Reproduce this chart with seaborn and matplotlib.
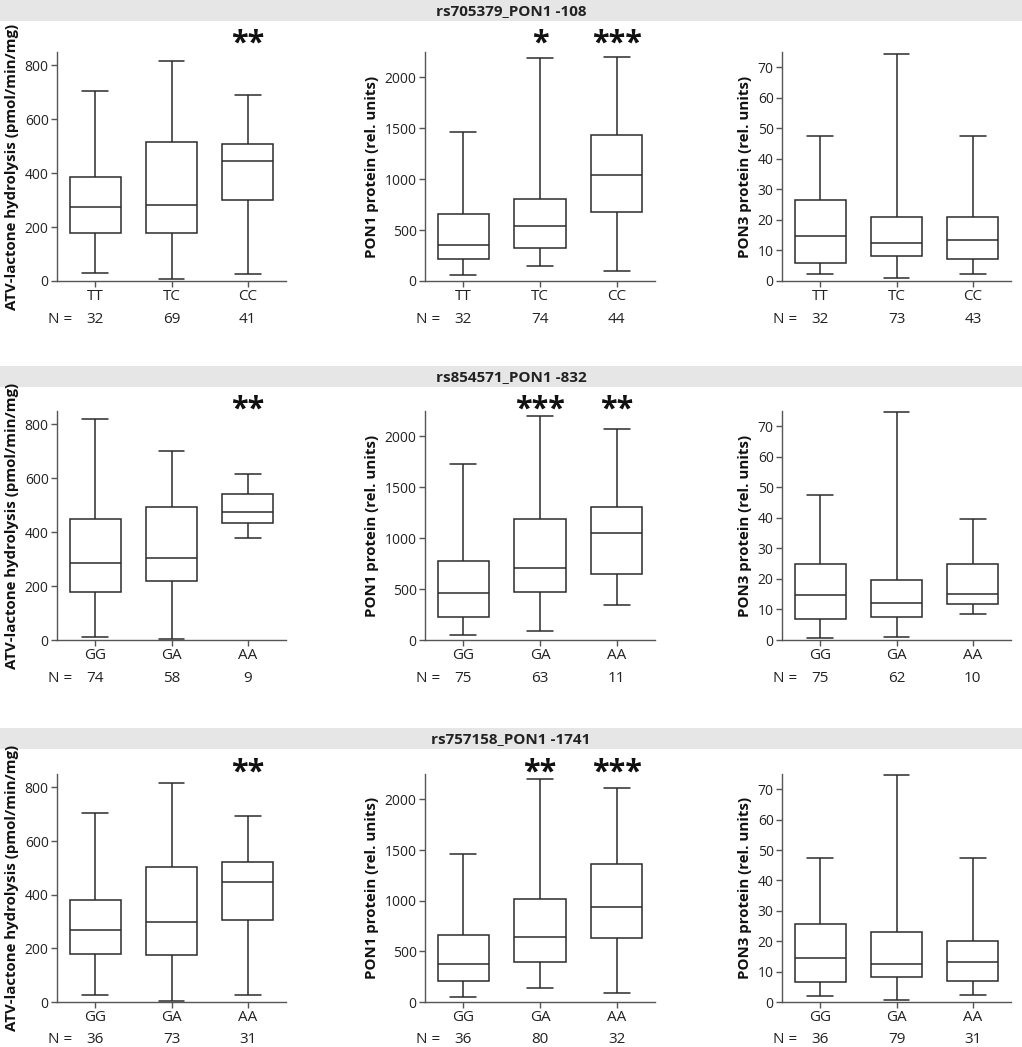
import matplotlib
matplotlib.use("Agg")
import matplotlib.pyplot as plt
import matplotlib.transforms as mtransforms
from matplotlib.patches import Rectangle
import pandas as pd
import seaborn as sns

# row titles, genotype labels, axis labels
snp_titles = ["rs705379_PON1 -108", "rs854571_PON1 -832", "rs757158_PON1 -1741"]
genotypes = [["TT", "TC", "CC"], ["GG", "GA", "AA"], ["GG", "GA", "AA"]]
y_labels = ["ATV-lactone hydrolysis (pmol/min/mg)",
            "PON1 protein (rel. units)",
            "PON3 protein (rel. units)"]
y_maxes = [850, 2250, 75]
y_ticks = [[0, 200, 400, 600, 800],
           [0, 500, 1000, 1500, 2000],
           [0, 10, 20, 30, 40, 50, 60, 70]]

# five-number summaries per genotype: min, Q1, median, Q3, max
atv_108 = [[30, 179, 275, 385, 705], [8, 179, 283, 517, 815], [26, 302, 447, 507, 690]]
pon1_108 = [[56, 212, 353, 663, 1461], [150, 324, 536, 810, 2190], [98, 680, 1046, 1438, 2199]]
pon3_108 = [[2.2, 6.0, 14.8, 26.4, 47.4], [1.1, 8.3, 12.4, 21.1, 74.5], [2.4, 7.2, 13.5, 20.8, 47.4]]

atv_832 = [[11, 180, 287, 450, 819], [5, 218, 304, 493, 701], [380, 434, 474, 541, 617]]
pon1_832 = [[53, 223, 466, 775, 1731], [89, 470, 706, 1189, 2204], [348, 644, 1051, 1304, 2072]]
pon3_832 = [[0.8, 7.0, 14.7, 24.8, 47.5], [1.1, 7.6, 12.1, 19.5, 74.8], [8.4, 11.9, 15.1, 24.8, 39.7]]

atv_1741 = [[27, 178, 270, 381, 703], [5, 177, 300, 504, 816], [25, 305, 447, 521, 692]]
pon1_1741 = [[49, 210, 378, 657, 1461], [141, 391, 640, 1018, 2200], [85, 627, 939, 1360, 2112]]
pon3_1741 = [[2.1, 6.5, 14.5, 25.6, 47.5], [0.8, 8.3, 12.4, 22.9, 74.7], [2.3, 7.0, 13.1, 20.0, 47.5]]

# sample sizes
n_108 = [[32, 69, 41], [32, 74, 44], [32, 73, 43]]
n_832 = [[74, 58, 9], [75, 63, 11], [75, 62, 10]]
n_1741 = [[36, 73, 31], [36, 80, 32], [36, 79, 31]]

# significance marks
stars_108 = [["", "", "**"], ["", "*", "***"], ["", "", ""]]
stars_832 = [["", "", "**"], ["", "***", "**"], ["", "", ""]]
stars_1741 = [["", "", "**"], ["", "**", "***"], ["", "", ""]]

summaries = [[atv_108, pon1_108, pon3_108],
             [atv_832, pon1_832, pon3_832],
             [atv_1741, pon1_1741, pon3_1741]]
counts = [n_108, n_832, n_1741]
stars = [stars_108, stars_832, stars_1741]

sns.set_style("ticks")
plt.rcParams["font.family"] = ["Open Sans", "DejaVu Sans"]

W, H = 1022, 1047
fig = plt.figure(figsize=(W / 100, H / 100), dpi=100)

col_left = [57, 425, 782]
col_width = [229, 230, 229]
row_top = [52, 411, 774]
row_height = [229, 229, 228]
header_top = [0, 366, 728]
header_h = 21
star_y = [1.035, 1.005, 1.005]
line_col = "#2b2b2b"

for r in range(3):
    fig.add_artist(Rectangle((0, 1 - (header_top[r] + header_h) / H), 1, header_h / H,
                             transform=fig.transFigure, facecolor="#e6e6e6",
                             edgecolor="none", zorder=0))
    fig.text(0.5, 1 - (header_top[r] + header_h / 2 + 0.5) / H, snp_titles[r],
             ha="center", va="center", fontsize=11, fontweight="bold", color="#222222")

    for c in range(3):
        ax = fig.add_axes([col_left[c] / W,
                           1 - (row_top[r] + row_height[r]) / H,
                           col_width[c] / W,
                           row_height[r] / H])
        rows = []
        for g, summ in zip(genotypes[r], summaries[r][c]):
            for v in summ:
                rows.append({"genotype": g, "value": v})
        df = pd.DataFrame(rows)

        sns.boxplot(data=df, x="genotype", y="value", order=genotypes[r],
                    whis=(0, 100), width=0.67, color="white", linecolor=line_col,
                    linewidth=1.1, showfliers=False, ax=ax)

        ax.set_xlim(-0.5, 2.5)
        ax.set_ylim(0, y_maxes[c])
        ax.set_yticks(y_ticks[c])
        ax.set_xlabel("")
        ax.set_ylabel(y_labels[c], fontsize=10.8, fontweight="bold", labelpad=4, color="#111111")
        sns.despine(ax=ax)
        for sp in ("left", "bottom"):
            ax.spines[sp].set_color("#555555")
            ax.spines[sp].set_linewidth(1.0)
        ax.tick_params(axis="y", direction="out", length=4, width=1, color="#555555",
                       labelsize=10, labelcolor="#222222", pad=2)
        ax.tick_params(axis="x", direction="out", length=4, width=1, color="#555555",
                       labelsize=11, labelcolor="#222222", pad=2)

        trans = mtransforms.blended_transform_factory(ax.transData, ax.transAxes)
        ax.text(-0.3, -0.166, "N =", transform=trans, ha="right", va="center",
                fontsize=11, color="#222222")
        for i, n in enumerate(counts[r][c]):
            ax.text(i, -0.166, str(n), transform=trans, ha="center", va="center",
                    fontsize=11, color="#222222")
            if stars[r][c][i]:
                ax.text(i, star_y[r], stars[r][c][i], transform=trans, ha="center",
                        va="center", fontsize=22, fontweight="bold", color="#111111",
                        clip_on=False)

fig.savefig("out.png", dpi=100)
